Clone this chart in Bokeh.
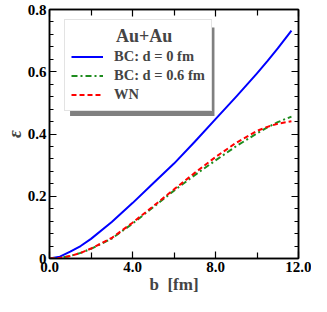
from bokeh.plotting import figure
from bokeh.models import (Range1d, FixedTicker, LinearAxis, Legend, LegendItem,
                          BoxAnnotation, CustomJSTickFormatter)
from bokeh.embed import file_html
from bokeh.resources import INLINE

b_vals = [0.0, 0.5, 1.0, 1.5, 2.0, 3.0, 4.0, 5.0, 6.0, 7.0, 8.0, 9.0, 10.0, 10.5, 11.0, 11.66]
bc0 = [0.0, 0.006, 0.022, 0.040, 0.063, 0.117, 0.178, 0.242, 0.305, 0.375, 0.448, 0.520, 0.595, 0.634, 0.675, 0.732]
bc06 = [0.0, 0.002, 0.008, 0.018, 0.031, 0.064, 0.112, 0.165, 0.218, 0.268, 0.315, 0.361, 0.402, 0.421, 0.438, 0.456]
wn = [0.0, 0.002, 0.008, 0.018, 0.032, 0.066, 0.115, 0.168, 0.222, 0.275, 0.326, 0.372, 0.410, 0.423, 0.433, 0.441]

x_ticks = [0, 4, 8, 12]
x_minor = [2, 6, 10]
y_ticks = [0, 0.2, 0.4, 0.6, 0.8]
y_minor = [round(0.04 * i, 2) for i in range(21)]

FONT = "Liberation Serif"

p = figure(width=311, height=296, output_backend="svg", toolbar_location=None,
           x_range=Range1d(0, 12), y_range=Range1d(0, 0.8),
           min_border_left=44, min_border_right=13, min_border_top=9, min_border_bottom=38)
p.grid.visible = False
p.outline_line_color = "black"
p.outline_line_width = 1.5

def style_axis(ax, ticks, minor, show_labels):
    ax.ticker = FixedTicker(ticks=ticks, minor_ticks=minor)
    ax.major_tick_in = 7
    ax.major_tick_out = 0
    ax.minor_tick_in = 6 if minor is x_minor else 4
    ax.minor_tick_out = 0
    ax.axis_line_width = 1.5
    ax.major_tick_line_width = 1.2
    ax.minor_tick_line_width = 1.2
    ax.major_label_text_font = FONT
    ax.major_label_text_font_style = "bold"
    ax.major_label_text_font_size = "15px"
    ax.major_label_text_color = "black"
    if not show_labels:
        ax.formatter = CustomJSTickFormatter(code="return '';")
        ax.major_label_standoff = 0

xa = p.xaxis[0]
style_axis(xa, x_ticks, x_minor, True)
xa.formatter = CustomJSTickFormatter(code="return tick.toFixed(1);")
xa.major_label_standoff = 3
xa.axis_label = "b\u00a0\u00a0[fm]"
xa.axis_label_text_font = FONT
xa.axis_label_text_font_style = "bold"
xa.axis_label_text_font_size = "17px"
xa.axis_label_standoff = 0

ya = p.yaxis[0]
style_axis(ya, y_ticks, y_minor, True)
ya.formatter = CustomJSTickFormatter(code="return tick === 0 ? '0' : tick.toFixed(1);")
ya.major_label_standoff = 3
ya.axis_label = "ε"
ya.axis_label_text_font = FONT
ya.axis_label_text_font_style = "bold italic"
ya.axis_label_text_font_size = "19px"
ya.axis_label_standoff = 0

top = LinearAxis()
style_axis(top, x_ticks, x_minor, False)
p.add_layout(top, "above")
right = LinearAxis()
style_axis(right, y_ticks, y_minor, False)
p.add_layout(right, "right")

r0 = p.line(b_vals, bc0, line_color="#0000ff", line_width=2, line_join="round")
r1 = p.line(b_vals, bc06, line_color="#1e8c1e", line_width=2, line_dash="6 3 2 3")
r2 = p.line(b_vals, wn, line_color="#ff0000", line_width=2, line_dash="5 3")

# legend shadow
shadow = BoxAnnotation(left=0.99, right=7.95, top=0.742, bottom=0.458,
                       fill_color="#808080", fill_alpha=1, line_alpha=0, level="annotation")
p.add_layout(shadow)

legend = Legend(items=[LegendItem(label="BC: d = 0 fm", renderers=[r0]),
                       LegendItem(label="BC: d = 0.6 fm", renderers=[r1]),
                       LegendItem(label="WN", renderers=[r2])],
                location=(15, 147), title="\u00a0" * 10 + "Au+Au")
legend.title_text_font = FONT
legend.title_text_font_style = "bold"
legend.title_text_font_size = "18px"
legend.label_text_font = FONT
legend.label_text_font_style = "bold"
legend.label_text_font_size = "14.5px"
legend.label_height = 19
legend.glyph_height = 19
legend.glyph_width = 32
legend.label_standoff = 11
legend.spacing = 0
legend.padding = 6
legend.margin = 0
legend.border_line_color = "#c8c8c8"
legend.border_line_width = 1
legend.background_fill_alpha = 1
legend.title_standoff = 0
p.add_layout(legend)

open("out.html", "w").write(file_html(p, INLINE))
